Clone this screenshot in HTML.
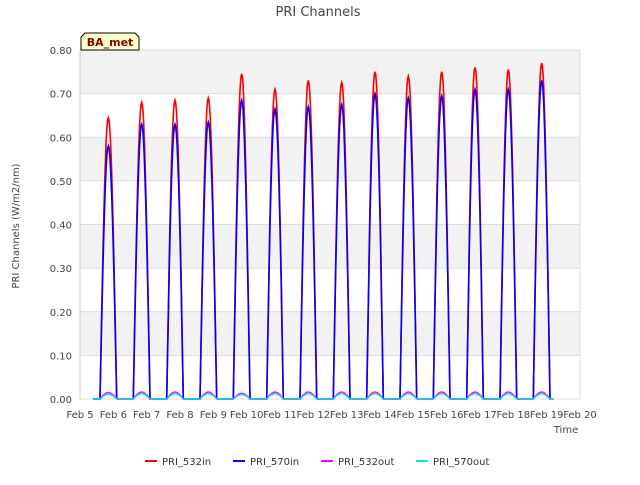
<!DOCTYPE html>
<html><head><meta charset="utf-8"><style>
body{margin:0;background:#fff;font-family:"Liberation Sans","DejaVu Sans",sans-serif}
</style></head><body>
<svg width="640" height="480" viewBox="0 0 640 480" xmlns="http://www.w3.org/2000/svg" font-family="DejaVu Sans, Liberation Sans, sans-serif">
<rect width="640" height="480" fill="#fff"/>
<text x="318" y="16" text-anchor="middle" font-size="13" fill="#444">PRI Channels</text>
<g id="bands"></g>
<g id="grid"></g>
<g id="yticks"></g>
<g id="xticks"></g>
<g id="series"></g>
<text x="19" y="226" transform="rotate(-90 19 226)" text-anchor="middle" font-size="10" fill="#444">PRI Channels (W/m2/nm)</text>
<text x="566" y="433" text-anchor="middle" font-size="10" fill="#444">Time</text>
<g>
<path d="M81,50 L81,37 L85,33 L135,33 L139,37 L139,50 Z" fill="#ffffcc" stroke="#000" stroke-width="1"/>
<text x="110" y="46" text-anchor="middle" font-size="11" font-weight="bold" fill="#8b0000">BA_met</text>
</g>
<g id="legend"></g>
</svg>
<script>
const NS="http://www.w3.org/2000/svg";
const xTickLabels=["Feb 5","Feb 6","Feb 7","Feb 8","Feb 9","Feb 10","Feb 11","Feb 12","Feb 13","Feb 14","Feb 15","Feb 16","Feb 17","Feb 18","Feb 19","Feb 20"];
const yTickLabels=["0.00","0.10","0.20","0.30","0.40","0.50","0.60","0.70","0.80"];
const peakDays=[5,6,7,8,9,10,11,12,13,14,15,16,17,18];
const peak532in=[0.645,0.68,0.685,0.69,0.745,0.71,0.73,0.725,0.75,0.74,0.75,0.76,0.755,0.77];
const peak570in=[0.58,0.63,0.63,0.635,0.685,0.665,0.67,0.675,0.70,0.69,0.695,0.71,0.71,0.73];
const peak532out=[0.015,0.016,0.016,0.016,0.013,0.016,0.016,0.016,0.016,0.016,0.016,0.016,0.016,0.016];
const peak570out=[0.011,0.012,0.012,0.012,0.010,0.012,0.012,0.012,0.012,0.012,0.012,0.012,0.012,0.012];
const X0=80,X1=580,Y0=399,Y1=50;
const xs=d=>X0+(d-5)/15*(X1-X0);
const ys=v=>Y0-v/0.8*(Y0-Y1);
function el(t,a,p){const e=document.createElementNS(NS,t);for(const k in a)e.setAttribute(k,a[k]);p.appendChild(e);return e;}
const bands=document.getElementById('bands'),grid=document.getElementById('grid'),yt=document.getElementById('yticks'),xt=document.getElementById('xticks');
for(let i=0;i<8;i++){if(i%2===1){const b=el('rect',{x:X0,y:ys((i+1)*0.1),width:X1-X0,height:ys(i*0.1)-ys((i+1)*0.1),fill:'#f2f2f2'},bands);

}}
yTickLabels.forEach((l,i)=>{const v=i*0.1;
const g=el('line',{x1:X0,x2:X1,y1:ys(v),y2:ys(v),stroke:'#dcdcdc'},grid);


const t=el('text',{x:X0-8,y:ys(v)+4,'text-anchor':'end','font-size':10,fill:'#444'},yt);t.textContent=l;

});
el('line',{x1:X0,x2:X0,y1:Y1,y2:Y0,stroke:'#ccc'},grid);
el('line',{x1:X1,x2:X1,y1:Y1,y2:Y0,stroke:'#ddd'},grid);
xTickLabels.forEach((l,i)=>{const t=el('text',{x:xs(5+i),y:418,'text-anchor':'middle','font-size':10,fill:'#444'},xt);t.textContent=l;

});
const ser=document.getElementById('series');
function path(peaks,color,w,name){let d='M'+xs(5.4)+','+ys(0);
peakDays.forEach((day,i)=>{const s=day+0.6,e=day+1.1;d+=' L'+xs(s)+','+ys(0);
for(let k=0;k<=24;k++){const t=s+(e-s)*k/24;const v=peaks[i]*Math.pow(Math.sin(Math.PI*k/24),1.0);d+=' L'+xs(t).toFixed(1)+','+ys(v).toFixed(1);}
d+=' L'+xs(e)+','+ys(0);});
d+=' L'+xs(19.2)+','+ys(0);
const p=el('path',{d:d,fill:'none',stroke:color,'stroke-width':w},ser);

}
path(peak532in,'#ff0000',1.6,'series-pri-532in');
path(peak570in,'#0000ff',1.6,'series-pri-570in');
path(peak532out,'#ff00ff',1.4,'series-pri-532out');
path(peak570out,'#00e5ee',1.4,'series-pri-570out');
const leg=document.getElementById('legend');
[["PRI_532in","#ff0000",145],["PRI_570in","#0000ff",233],["PRI_532out","#ff00ff",321],["PRI_570out","#00e5ee",416]].forEach(([n,c,x])=>{
const g=el('g',{},leg);


el('line',{x1:x,x2:x+12,y1:461,y2:461,stroke:c,'stroke-width':2},g);
const t=el('text',{x:x+17,y:465,'font-size':10,fill:'#333'},g);t.textContent=n;});
</script>
</body></html>
